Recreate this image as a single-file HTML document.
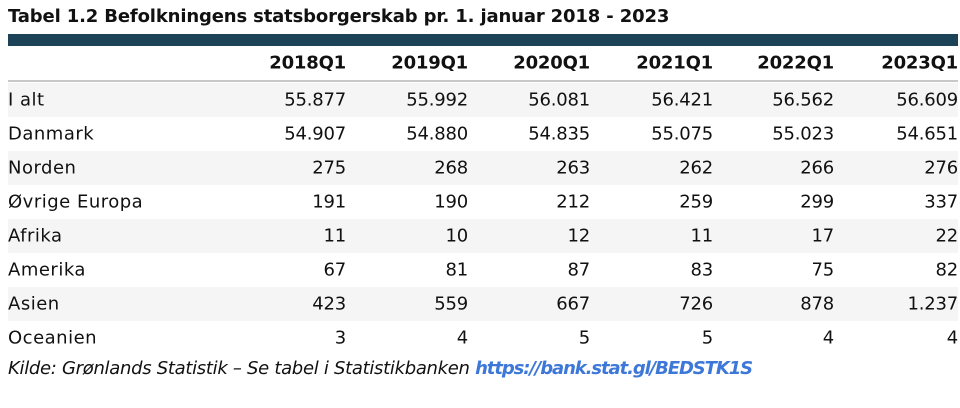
<!DOCTYPE html>
<html><head><meta charset="utf-8"><style>
body{margin:0;width:960px;height:408px;background:#fff;font-family:"DejaVu Sans","Liberation Sans",sans-serif;color:#111;overflow:hidden;position:relative}
.t{position:absolute;left:8px;top:6px;font-weight:bold;font-size:18px;letter-spacing:-0.15px}
.bar{position:absolute;left:8px;top:34px;width:950px;height:12px;background:#1c4257}
.row{position:absolute;left:8px;width:950px;height:34px}
.row span{position:absolute;top:50%;transform:translateY(-50%);font-size:18px;white-space:nowrap;letter-spacing:-0.2px}
.row span.lab{letter-spacing:0.5px}
.hdr span{font-weight:bold}
.line{position:absolute;left:8px;top:80px;width:950px;height:2px;background:#c8c8c8}
.f{position:absolute;left:8px;top:358px;font-size:18px;font-style:italic;letter-spacing:-0.3px}
.f a{color:#3d78d8;font-weight:bold;text-decoration:none;letter-spacing:-1.1px}
</style></head><body>
<div class="t">Tabel 1.2 Befolkningens statsborgerskab pr. 1. januar 2018 - 2023</div>
<div class="bar"></div>
<div id="tbl"></div>
<div class="line"></div>
<div class="f">Kilde: Grønlands Statistik – Se tabel i Statistikbanken <a>https://bank.stat.gl/BEDSTK1S</a></div>
<script>
const columns=["2018Q1","2019Q1","2020Q1","2021Q1","2022Q1","2023Q1"];
const rowLabels=["I alt","Danmark","Norden","Øvrige Europa","Afrika","Amerika","Asien","Oceanien"];
const values=[
["55.877","55.992","56.081","56.421","56.562","56.609"],
["54.907","54.880","54.835","55.075","55.023","54.651"],
["275","268","263","262","266","276"],
["191","190","212","259","299","337"],
["11","10","12","11","17","22"],
["67","81","87","83","75","82"],
["423","559","667","726","878","1.237"],
["3","4","5","5","4","4"]];
const rights=[338,460,582,705,826,950];
const tbl=document.getElementById('tbl');
function mk(cls,top,bg){const d=document.createElement('div');d.className=cls;d.style.top=top+'px';if(bg)d.style.background=bg;tbl.appendChild(d);return d;}
const h=mk('row hdr',46);


columns.forEach((c,i)=>{const s=document.createElement('span');s.textContent=c;s.style.right=(950-rights[i])+'px';


h.appendChild(s);});
rowLabels.forEach((lab,r)=>{const d=mk('row',83+r*34,r%2==0?'#f5f5f5':'#fff');


const l=document.createElement('span');l.textContent=lab;l.style.left='0px';l.className='lab';


d.appendChild(l);
values[r].forEach((v,i)=>{const s=document.createElement('span');s.textContent=v;s.style.right=(950-rights[i])+'px';


d.appendChild(s);});});
</script>
</body></html>
